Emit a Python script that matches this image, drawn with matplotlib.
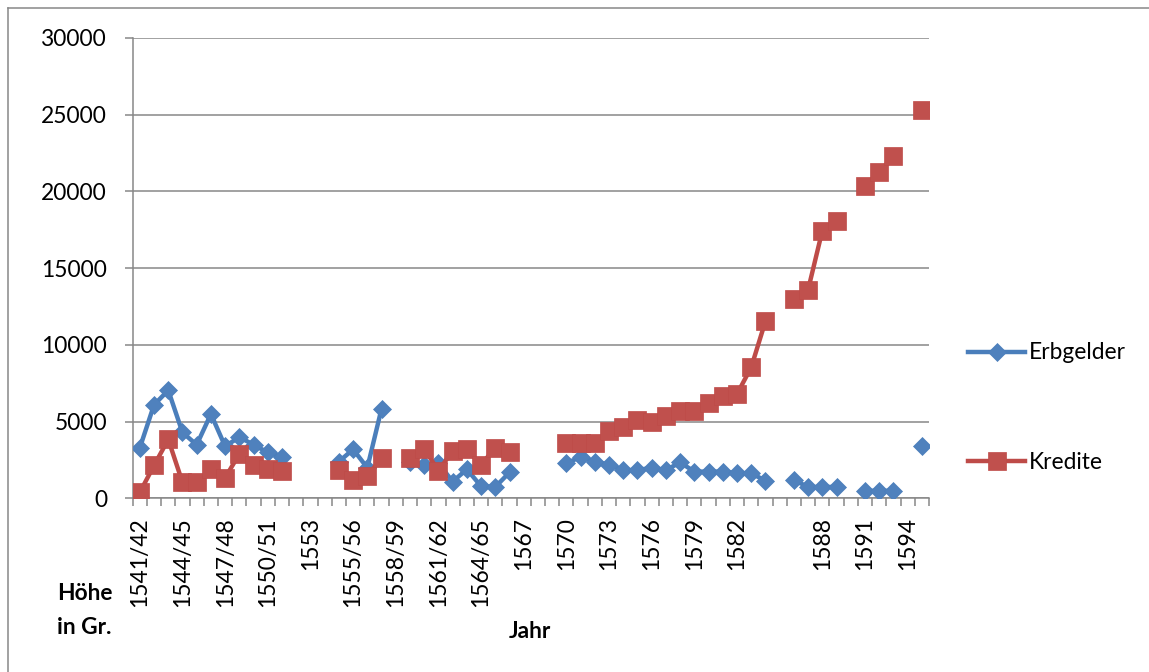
import numpy as np
import matplotlib.pyplot as plt
from matplotlib.lines import Line2D

nan = np.nan

jahre = ['1541/42', '1542/43', '1543/44', '1544/45', '1545/46', '1546/47',
         '1547/48', '1548/49', '1549/50', '1550/51', '1551/52', '1552',
         '1553', '1554', '1554/55', '1555/56', '1556/57', '1557/58',
         '1558/59', '1559/60', '1560/61', '1561/62', '1562/63', '1563/64',
         '1564/65', '1565/66', '1566', '1567', '1568', '1569',
         '1570', '1571', '1572', '1573', '1574', '1575', '1576', '1577',
         '1578', '1579', '1580', '1581', '1582', '1583', '1584', '',
         '1586', '1587', '1588', '1589', '1590', '1591', '1592', '1593',
         '1594', '1595']

erbgelder = [3300, 6100, 7050, 4300, 3500, 5500, 3400, 4000, 3500, 3000, 2700,
             nan, nan, nan, 2400, 3200, 2000, 5850, nan,
             2350, 2150, 2300, 1100, 1900, 800, 750, 1700, nan, nan, nan,
             2300, 2700, 2400, 2200, 1850, 1850, 2000, 1850, 2350, 1750,
             1750, 1750, 1650, 1650, 1150, nan,
             1200, 750, 750, 750, nan, 500, 500, 500, nan, 3400]

kredite = [400, 2150, 3850, 1050, 1050, 1900, 1350, 2900, 2150, 1950, 1800,
           nan, nan, nan, 1850, 1200, 1450, 2650, nan,
           2650, 3250, 1800, 3100, 3200, 2200, 3300, 3000, nan, nan, nan,
           3600, 3600, 3600, 4400, 4650, 5100, 5000, 5400, 5700, 5700,
           6200, 6700, 6800, 8550, 11550, nan,
           13000, 13600, 17450, 18100, nan, 20350, 21250, 22300, nan, 25300]

plt.rcParams['font.family'] = ['Lato', 'DejaVu Sans']
fs = 16.4
grey = '#878787'

fig = plt.figure(figsize=(11.49, 6.72), dpi=100)
ax = fig.add_axes([0.1155, 0.2582, 0.8085 - 0.1155, 0.9435 - 0.2582])

x = np.arange(len(jahre))
ax.plot(x, erbgelder, color='#4A7EBB', lw=3.2, marker='D', ms=9.2,
        mfc='#4F81BD', mec='#4A7EBB', mew=0.5, label='Erbgelder', zorder=3)
ax.plot(x, kredite, color='#BE4B48', lw=3.2, marker='s', ms=13.5,
        mfc='#C0504D', mec='#BE4B48', mew=0.5, label='Kredite', zorder=4)

ax.set_xlim(-0.5, len(jahre) - 0.5)
ax.set_ylim(0, 30000)
ax.set_yticks(range(0, 30001, 5000))
ax.grid(axis='y', color=grey, lw=1.1)
ax.set_axisbelow(True)

ax.set_xticks(x[::3])
ax.set_xticklabels(jahre[::3], rotation=90, fontsize=fs)
ax.set_xticks(np.arange(-0.5, len(jahre), 1), minor=True)
ax.tick_params(axis='x', which='major', length=0, pad=13.3)
ax.tick_params(axis='x', which='minor', length=5.8, color=grey, width=1.1)
ax.tick_params(axis='y', length=5.8, color=grey, width=1.1, pad=12.7,
               labelsize=fs)

for s in ['top', 'right']:
    ax.spines[s].set_visible(False)
for s in ['left', 'bottom']:
    ax.spines[s].set_color(grey)
    ax.spines[s].set_linewidth(1.1)

ax.legend(loc='center left', bbox_to_anchor=(0.8425, 0.393),
          bbox_transform=fig.transFigure, frameon=False, fontsize=fs,
          handlelength=2.5, handletextpad=0.15, labelspacing=3.9,
          borderpad=0, borderaxespad=0)

fig.text(530 / 1149, 1 - 632 / 672, 'Jahr', ha='center', va='center',
         fontsize=fs, fontweight='bold')
fig.text(57 / 1149, 1 - 593 / 672, 'Höhe', ha='left', va='center',
         fontsize=fs, fontweight='bold')
fig.text(57 / 1149, 1 - 627 / 672, 'in Gr.', ha='left', va='center',
         fontsize=fs, fontweight='bold')

# outer frame
fig.add_artist(Line2D([8 / 1149, 8 / 1149], [0, 1 - 8 / 672],
                      transform=fig.transFigure, color=grey, lw=1.1))
fig.add_artist(Line2D([8 / 1149, 1], [1 - 8 / 672, 1 - 8 / 672],
                      transform=fig.transFigure, color=grey, lw=1.1))

fig.savefig('out.png', dpi=100)
